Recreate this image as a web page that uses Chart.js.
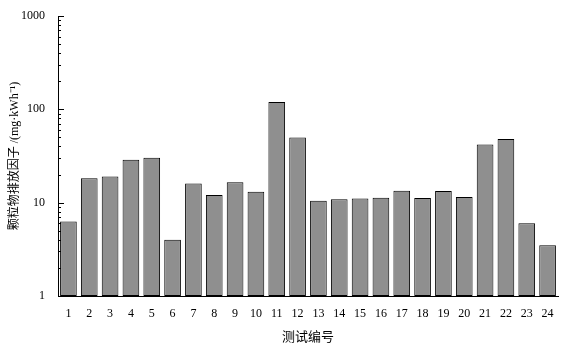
<!DOCTYPE html>
<html>
<head>
<meta charset="utf-8">
<script src="https://cdn.jsdelivr.net/npm/chart.js@4"></script>
<style>
  html, body { margin: 0; padding: 0; background: #fff; }
  #wrap { width: 566px; height: 345px; }
</style>
</head>
<body>
<div id="wrap"><canvas id="myChart" width="566" height="345"></canvas></div>
<script>
// test numbers and emission factors (mg/kWh)
const testIds = ['1','2','3','4','5','6','7','8','9','10','11','12',
                 '13','14','15','16','17','18','19','20','21','22','23','24'];
const emission = [6.3, 18.3, 19.1, 28.8, 30.2, 4.0, 16.0, 12.1, 16.5, 13.1, 120, 50,
                  10.5, 10.9, 11.1, 11.3, 13.4, 11.2, 13.3, 11.5, 41.9, 48.2, 6.0, 3.5];
const majorTicks = [1, 10, 100, 1000];

const serif = "'Liberation Serif', 'DejaVu Serif', serif";
const titleFont = "'Liberation Serif', 'Noto Sans CJK SC', serif";

// small inward ticks on the y axis (major at decades, minor at 2..9)
const inwardTicks = {
    id: 'inwardTicks',
    afterDraw(chart) {
        const y = chart.scales.y;
        const ctx = chart.ctx;
        const x0 = chart.chartArea.left;
        ctx.save();
        ctx.strokeStyle = '#000';
        ctx.lineWidth = 1;
        for (let d = 0; d < majorTicks.length; d++) {
            const base = majorTicks[d];
            const steps = d === majorTicks.length - 1 ? 1 : 9;
            for (let k = 1; k <= steps; k++) {
                const v = base * k;
                const py = Math.round(y.getPixelForValue(v)) + 0.5;
                const len = k === 1 ? 6 : 3;
                ctx.beginPath();
                ctx.moveTo(x0, py);
                ctx.lineTo(x0 + len, py);
                ctx.stroke();
            }
        }
        ctx.restore();
    }
};

const ctx = document.getElementById('myChart').getContext('2d');
const myChart = new Chart(ctx, {
    type: 'bar',
    data: {
        labels: testIds,
        datasets: [{
            data: emission,
            backgroundColor: '#8f8f8f',
            borderColor: '#000',
            borderWidth: 1,
            borderSkipped: false,
            barPercentage: 0.8,
            categoryPercentage: 1.0
        }]
    },
    options: {
        responsive: false,
        animation: false,
        layout: { padding: { top: 16, right: 8, left: 8, bottom: 0 } },
        plugins: {
            legend: { display: false },
            tooltip: { enabled: false }
        },
        scales: {
            x: {
                grid: { display: false },
                border: { display: true, color: '#000', width: 1 },
                ticks: { color: '#000', font: { family: serif, size: 12 }, padding: 3, maxRotation: 0 },
                title: {
                    display: true,
                    text: '测试编号',
                    color: '#000',
                    font: { family: titleFont, size: 13 },
                    padding: { top: 3, bottom: 0 }
                },
                afterFit(scale) { scale.height = 49; }
            },
            y: {
                type: 'logarithmic',
                min: 1,
                max: 1000,
                grid: { display: false },
                border: { display: true, color: '#000', width: 1 },
                afterBuildTicks(scale) {
                    scale.ticks = majorTicks.map(v => ({ value: v }));
                },
                ticks: {
                    color: '#000',
                    font: { family: serif, size: 12 },
                    padding: 5,
                    callback: v => String(v)
                },
                title: {
                    display: true,
                    text: '颗粒物排放因子 /(mg·kWh⁻¹)',
                    color: '#000',
                    font: { family: titleFont, size: 12 },
                    padding: { top: 0, bottom: 4 }
                },
                afterFit(scale) { scale.width = 50; }
            }
        }
    },
    plugins: [inwardTicks]
});
</script>
</body>
</html>
